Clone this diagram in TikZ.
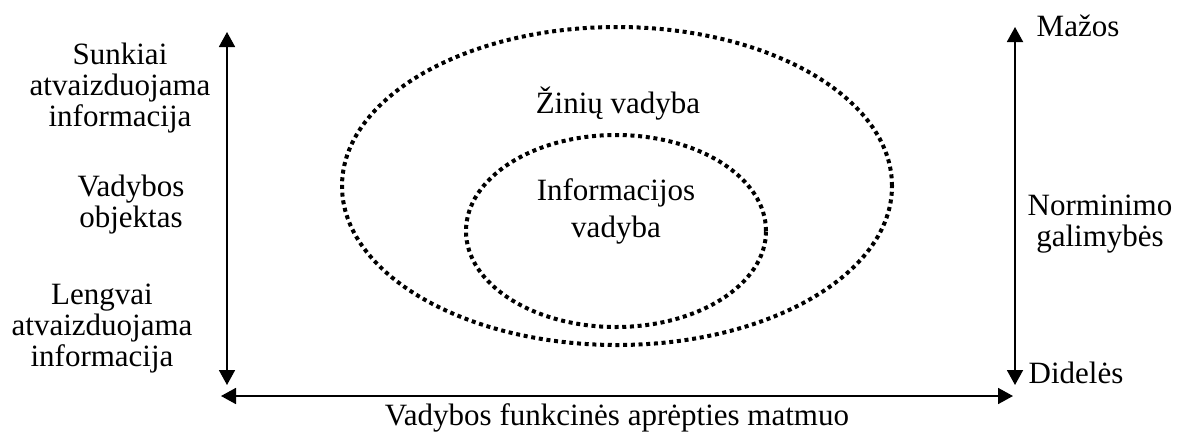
\documentclass[tikz,border=0pt]{standalone}
\usepackage{fontspec}
\setmainfont{Liberation Serif}
\usetikzlibrary{arrows.meta,shapes.geometric}
\begin{document}
\begin{tikzpicture}[x=1pt,y=-1pt,
  axis/.style={line width=1.8pt,{Triangle[length=15pt,width=16pt]}-{Triangle[length=15pt,width=16pt]}},
  dotring/.style={line width=4pt,dash pattern=on 4pt off 3.7pt},
  lbl/.style={font=\fontsize{31pt}{31pt}\selectfont,align=center,inner sep=0pt}]
\useasboundingbox (0,0) rectangle (1177,432);
\coordinate (lt) at (227,32);
\coordinate (lb) at (227,385);
\coordinate (rt) at (1015,27);
\coordinate (rb) at (1015,385);
\coordinate (hl) at (221,396);
\coordinate (hr) at (1013,396);
\draw[axis] (lt) -- (lb);
\draw[axis] (rt) -- (rb);
\draw[axis] (hl) -- (hr);
\node[dotring,draw,ellipse,minimum width=550pt,minimum height=318pt,inner sep=0pt] (outer) at (617,186) {};
\node[dotring,draw,ellipse,minimum width=300pt,minimum height=192pt,inner sep=0pt] (inner) at (616,231) {};
\node[lbl] (sunk) at (120,87.8) {Sunkiai\\atvaizduojama\\informacija};
\node[lbl] (vobj) at (131,204.8) {Vadybos\\objektas};
\node[lbl] (leng) at (102,328.8) {Lengvai\\atvaizduojama\\informacija};
\node[lbl,anchor=base] (mazos) at (1078,36) {Mažos};
\node[lbl] (norm) at (1100,223.8) {Norminimo\\galimybės};
\node[lbl,anchor=base] (dideles) at (1076,383) {Didelės};
\node[lbl,anchor=base] (zinvad) at (618,113) {Žinių vadyba};
\node[lbl] (infvad) at (616,211.3) {Informacijos\\[6pt]vadyba};
\node[lbl,anchor=base] (matmuo) at (617,425) {Vadybos funkcinės aprėpties matmuo};
\end{tikzpicture}
\end{document}
